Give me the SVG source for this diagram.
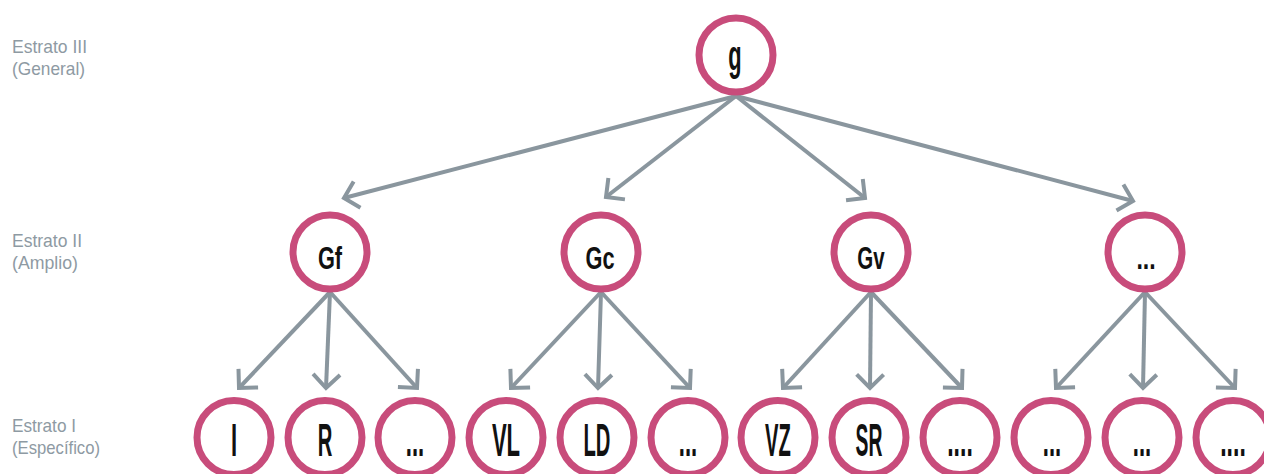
<svg xmlns="http://www.w3.org/2000/svg" width="1264" height="474" viewBox="0 0 1264 474">
<style>
.node circle{fill:#fff;stroke:#c84c7b;stroke-width:7}
.nt{font-family:"Liberation Sans",Arial,sans-serif;font-weight:bold;fill:#111;text-anchor:middle}
.lbl{font-family:"Liberation Sans",Arial,sans-serif;font-size:19px;fill:#8e9aa3}
.conn line{stroke:#8a969e;stroke-width:4;fill:none;marker-end:url(#chev)}
</style>
<defs>
<marker id="chev" markerUnits="userSpaceOnUse" viewBox="-20 -20 40 40" markerWidth="40" markerHeight="40" refX="0" refY="0" orient="auto">
<path d="M-13.5,-13.5 L0,0 L-13.5,13.5" fill="none" stroke="#8a969e" stroke-width="4"/>
</marker>
</defs>
<rect width="1264" height="474" fill="#fff"/>
<g id="labels">
<text class="lbl" x="12" y="53" textLength="75" lengthAdjust="spacingAndGlyphs">Estrato III</text>
<text class="lbl" x="12" y="75" textLength="73" lengthAdjust="spacingAndGlyphs">(General)</text>
<text class="lbl" x="12" y="247" textLength="70" lengthAdjust="spacingAndGlyphs">Estrato II</text>
<text class="lbl" x="12" y="269" textLength="66" lengthAdjust="spacingAndGlyphs">(Amplio)</text>
<text class="lbl" x="12" y="432" textLength="64" lengthAdjust="spacingAndGlyphs">Estrato I</text>
<text class="lbl" x="12" y="454" textLength="88" lengthAdjust="spacingAndGlyphs">(Específico)</text>
</g>
<g id="connectors" class="conn">
<line x1="736" y1="96" x2="344" y2="198"/>
<line x1="736" y1="96" x2="606" y2="197"/>
<line x1="736" y1="96" x2="865" y2="198"/>
<line x1="736" y1="96" x2="1133" y2="201"/>
<line x1="330" y1="292" x2="239" y2="388"/>
<line x1="330" y1="292" x2="326" y2="388"/>
<line x1="330" y1="292" x2="417" y2="388"/>
<line x1="601" y1="292" x2="511" y2="388"/>
<line x1="601" y1="292" x2="598" y2="388"/>
<line x1="601" y1="292" x2="690" y2="388"/>
<line x1="871" y1="292" x2="783" y2="388"/>
<line x1="871" y1="292" x2="870" y2="388"/>
<line x1="871" y1="292" x2="962" y2="388"/>
<line x1="1145" y1="292" x2="1056" y2="388"/>
<line x1="1145" y1="292" x2="1143" y2="388"/>
<line x1="1145" y1="292" x2="1235" y2="388"/>
</g>
<g id="n-g" class="node"><circle cx="736" cy="55" r="37"/><text class="nt" transform="translate(735,70) scale(0.52,1)" font-size="42">g</text></g>
<g id="n-Gf" class="node"><circle cx="330" cy="252" r="37"/><text class="nt" transform="translate(330,269) scale(0.68,1)" font-size="32">Gf</text></g>
<g id="n-Gc" class="node"><circle cx="601" cy="252" r="37"/><text class="nt" transform="translate(600,269) scale(0.68,1)" font-size="32">Gc</text></g>
<g id="n-Gv" class="node"><circle cx="871" cy="252" r="37"/><text class="nt" transform="translate(871,269) scale(0.64,1)" font-size="32">Gv</text></g>
<g id="n-G4" class="node"><circle cx="1145" cy="252" r="37"/><text class="nt" transform="translate(1146,269) scale(0.72,1)" font-size="32">...</text></g>
<g id="n-I" class="node"><circle cx="234" cy="437.5" r="37"/><text class="nt" transform="translate(234,456) scale(0.48,1)" font-size="46">I</text></g>
<g id="n-R" class="node"><circle cx="325" cy="437.5" r="37"/><text class="nt" transform="translate(325,456) scale(0.44,1)" font-size="46">R</text></g>
<g id="n-a3" class="node"><circle cx="415" cy="437.5" r="37"/><text class="nt" transform="translate(415,456) scale(0.48,1)" font-size="46">...</text></g>
<g id="n-VL" class="node"><circle cx="506" cy="437.5" r="37"/><text class="nt" transform="translate(506,456) scale(0.48,1)" font-size="46">VL</text></g>
<g id="n-LD" class="node"><circle cx="597" cy="437.5" r="37"/><text class="nt" transform="translate(597,456) scale(0.44,1)" font-size="46">LD</text></g>
<g id="n-b3" class="node"><circle cx="688" cy="437.5" r="37"/><text class="nt" transform="translate(688,456) scale(0.48,1)" font-size="46">...</text></g>
<g id="n-VZ" class="node"><circle cx="778" cy="437.5" r="37"/><text class="nt" transform="translate(778,456) scale(0.44,1)" font-size="46">VZ</text></g>
<g id="n-SR" class="node"><circle cx="869" cy="437.5" r="37"/><text class="nt" transform="translate(869,456) scale(0.42,1)" font-size="46">SR</text></g>
<g id="n-c3" class="node"><circle cx="960" cy="437.5" r="37"/><text class="nt" transform="translate(960,456) scale(0.5,1)" font-size="46">....</text></g>
<g id="n-d1" class="node"><circle cx="1051" cy="437.5" r="37"/><text class="nt" transform="translate(1052,456) scale(0.48,1)" font-size="46">...</text></g>
<g id="n-d2" class="node"><circle cx="1142" cy="437.5" r="37"/><text class="nt" transform="translate(1142,456) scale(0.48,1)" font-size="46">...</text></g>
<g id="n-d3" class="node"><circle cx="1233" cy="437.5" r="37"/><text class="nt" transform="translate(1233,456) scale(0.5,1)" font-size="46">....</text></g>
</svg>
